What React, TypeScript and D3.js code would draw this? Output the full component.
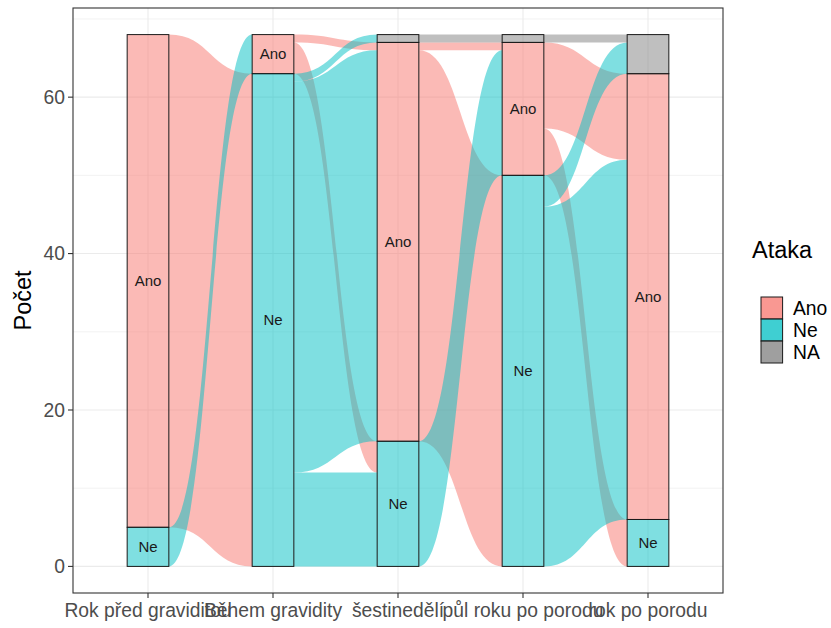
import React from "react";
import * as d3 from "d3";

const AXES = ["Rok před graviditou", "Během gravidity", "šestinedělí", "půl roku po porodu", "rok po porodu"];
const LEVELS = ["Ano", "Ne", "NA"];
// stacking order from bottom to top
const STACK_ORDER = ["Ne", "Ano", "NA"];
const COLORS: Record<string, string> = { Ano: "#F8766D", Ne: "#00BFC4", NA: "#7F7F7F" };

// flow matrices: rows = from level (Ano, Ne, NA), cols = to level (Ano, Ne, NA)
const FLOW_1_2 = [
  [0, 63, 0],
  [5, 0, 0],
  [0, 0, 0],
];
const FLOW_2_3 = [
  [1, 4, 0],
  [50, 12, 1],
  [0, 0, 0],
];
const FLOW_3_4 = [
  [1, 50, 0],
  [16, 0, 0],
  [0, 0, 1],
];
const FLOW_4_5 = [
  [11, 6, 0],
  [46, 0, 4],
  [0, 0, 1],
];
const FLOWS = [FLOW_1_2, FLOW_2_3, FLOW_3_4, FLOW_4_5];

const Y_TICKS = [0, 20, 40, 60];
const Y_MINOR = [10, 30, 50, 70];
const LEGEND_TITLE = "Ataka";
const Y_TITLE = "Počet";

const W = 831;
const H = 628;
const P = { left: 73, right: 723, top: 8, bottom: 593 };
const FONT = "'Liberation Sans', Arial, Helvetica, sans-serif";
const TICK_FS = 19.3;

export default function App() {
  const x = d3.scalePoint<string>().domain(AXES).range([P.left, P.right]).padding(0.6);
  const total = d3.sum(FLOW_1_2.flat());
  const ex = total * 0.05;
  const y = d3.scaleLinear().domain([-ex, total + ex]).range([P.bottom, P.top]);
  const bw = x.step() / 3;

  // counts per axis per level
  const counts: number[][] = [];
  counts.push(FLOW_1_2.map((r) => d3.sum(r)));
  FLOWS.forEach((m) => counts.push(LEVELS.map((_, j) => d3.sum(m.map((r) => r[j])))));

  // stratum bottoms
  const bottoms: number[][] = counts.map((c) => {
    const b = [0, 0, 0];
    let acc = 0;
    STACK_ORDER.forEach((lv) => {
      const i = LEVELS.indexOf(lv);
      b[i] = acc;
      acc += c[i];
    });
    return b;
  });

  type Flow = { t: number; from: number; to: number; l0: number; l1: number; r0: number; r1: number };
  const flows: Flow[] = [];
  FLOWS.forEach((m, t) => {
    const leftPos: Record<string, number> = {};
    LEVELS.forEach((_, s) => {
      let acc = bottoms[t][s];
      STACK_ORDER.forEach((lv) => {
        const d = LEVELS.indexOf(lv);
        leftPos[s + "-" + d] = acc;
        acc += m[s][d];
      });
    });
    const rightPos: Record<string, number> = {};
    LEVELS.forEach((_, d) => {
      let acc = bottoms[t + 1][d];
      STACK_ORDER.forEach((lv) => {
        const s = LEVELS.indexOf(lv);
        rightPos[s + "-" + d] = acc;
        acc += m[s][d];
      });
    });
    LEVELS.forEach((_, s) => {
      LEVELS.forEach((_, d) => {
        const v = m[s][d];
        if (v <= 0) return;
        const k = s + "-" + d;
        flows.push({ t, from: s, to: d, l0: leftPos[k], l1: leftPos[k] + v, r0: rightPos[k], r1: rightPos[k] + v });
      });
    });
  });

  const flowPath = (f: Flow) => {
    const x0 = (x(AXES[f.t]) as number) + bw / 2;
    const x1 = (x(AXES[f.t + 1]) as number) - bw / 2;
    const xm = (x0 + x1) / 2;
    const p = d3.path();
    p.moveTo(x0, y(f.l1));
    p.bezierCurveTo(xm, y(f.l1), xm, y(f.r1), x1, y(f.r1));
    p.lineTo(x1, y(f.r0));
    p.bezierCurveTo(xm, y(f.r0), xm, y(f.l0), x0, y(f.l0));
    p.closePath();
    return p.toString();
  };

  return (
    <svg width={W} height={H} style={{ position: "absolute", left: 0, top: 0 }} fontFamily={FONT}>
      <rect x={0} y={0} width={W} height={H} fill="#fff" />
      {/* grid */}
      {Y_MINOR.map((v) => (
        <line key={"mi" + v} x1={P.left} x2={P.right} y1={y(v)} y2={y(v)} stroke="#EBEBEB" strokeWidth={0.6} />
      ))}
      {Y_TICKS.map((v) => (
        <line key={"ma" + v} x1={P.left} x2={P.right} y1={y(v)} y2={y(v)} stroke="#EBEBEB" strokeWidth={1.1} />
      ))}
      {AXES.map((a) => (
        <line key={"vx" + a} x1={x(a)} x2={x(a)} y1={P.top} y2={P.bottom} stroke="#EBEBEB" strokeWidth={1.1} />
      ))}
      {/* flows */}
      {flows.map((f, i) => (
        <path key={"f" + i} d={flowPath(f)} fill={COLORS[LEVELS[f.from]]} fillOpacity={0.5} stroke="none" />
      ))}
      {/* strata */}
      {AXES.map((a, ai) =>
        LEVELS.map((lv, li) => {
          const c = counts[ai][li];
          if (c <= 0) return null;
          const b = bottoms[ai][li];
          const cx = x(a) as number;
          return (
            <g key={"s" + ai + lv}>
              <rect
                x={cx - bw / 2}
                y={y(b + c)}
                width={bw}
                height={y(b) - y(b + c)}
                fill={COLORS[lv]}
                fillOpacity={0.5}
                stroke="#1a1a1a"
                strokeWidth={1}
              />
              {lv !== "NA" && (
                <text x={cx} y={y(b + c / 2)} dy="0.35em" textAnchor="middle" fontSize={15} fill="#1a1a1a">
                  {lv}
                </text>
              )}
            </g>
          );
        })
      )}
      {/* panel border */}
      <rect x={P.left} y={P.top} width={P.right - P.left} height={P.bottom - P.top} fill="none" stroke="#333333" strokeWidth={1.1} />
      {/* y axis */}
      {Y_TICKS.map((v) => (
        <g key={"yt" + v}>
          <line x1={P.left - 5} x2={P.left} y1={y(v)} y2={y(v)} stroke="#333333" strokeWidth={1.1} />
          <text x={P.left - 8} y={y(v)} dy="0.35em" textAnchor="end" fontSize={TICK_FS} fill="#4D4D4D">
            {v}
          </text>
        </g>
      ))}
      {/* x axis */}
      {AXES.map((a) => (
        <g key={"xt" + a}>
          <line x1={x(a)} x2={x(a)} y1={P.bottom} y2={P.bottom + 5} stroke="#333333" strokeWidth={1.1} />
          <text x={x(a)} y={P.bottom + 24} textAnchor="middle" fontSize={TICK_FS} fill="#4D4D4D">
            {a}
          </text>
        </g>
      ))}
      <text transform={`translate(31,${(P.top + P.bottom) / 2}) rotate(-90)`} textAnchor="middle" fontSize={23.5} fill="#000">
        {Y_TITLE}
      </text>
      {/* legend */}
      <text x={752} y={258} fontSize={23.5} fill="#000">
        {LEGEND_TITLE}
      </text>
      {LEVELS.map((lv, i) => (
        <g key={"lg" + lv} transform={`translate(761,${297 + i * 22})`}>
          <rect width={21.6} height={22} fill={COLORS[lv]} fillOpacity={0.5} />
          <rect width={21.6} height={22} fill={COLORS[lv]} fillOpacity={0.5} stroke="#1a1a1a" strokeWidth={1} />
          <text x={32} y={11} dy="0.35em" fontSize={TICK_FS} fill="#000">
            {lv}
          </text>
        </g>
      ))}
    </svg>
  );
}
